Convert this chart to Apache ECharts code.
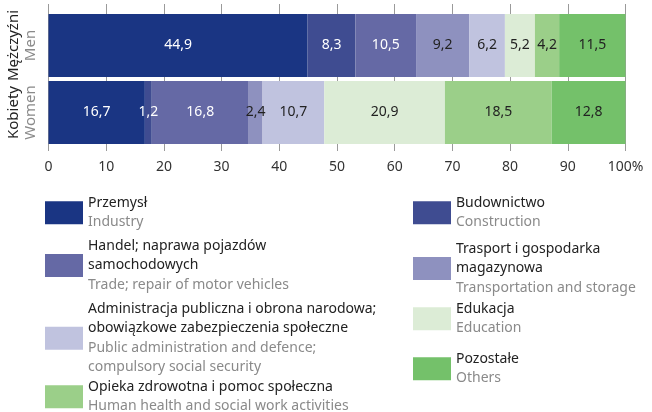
<!DOCTYPE html>
<html>
<head>
<meta charset="utf-8">
<script src="https://cdn.jsdelivr.net/npm/echarts@6/dist/echarts.min.js"></script>
<style>
  html, body { margin: 0; padding: 0; background: #fff; }
  #main { width: 652px; height: 412px; }
</style>
</head>
<body>
<div id="main"></div>
<script>
var myChart = echarts.init(document.getElementById('main'));

// wiersze wykresu
var rowsPl = ['Mężczyźni', 'Kobiety'];
var rowsEn = ['Men', 'Women'];

// sekcje (serie)
var sectionsPl = ['Przemysł', 'Budownictwo', 'Handel; naprawa pojazdów\nsamochodowych',
    'Trasport i gospodarka\nmagazynowa', 'Administracja publiczna i obrona narodowa;\nobowiązkowe zabezpieczenia społeczne',
    'Edukacja', 'Opieka zdrowotna i pomoc społeczna', 'Pozostałe'];
var sectionsEn = ['Industry', 'Construction', 'Trade; repair of motor vehicles',
    'Transportation and storage', 'Public administration and defence;\ncompulsory social security',
    'Education', 'Human health and social work activities', 'Others'];

// udział % [mężczyźni, kobiety]
var przemysl      = [44.9, 16.7];
var budownictwo   = [8.3, 1.2];
var handel        = [10.5, 16.8];
var transport     = [9.2, 2.4];
var administracja = [6.2, 10.7];
var edukacja      = [5.2, 20.9];
var opieka        = [4.2, 18.5];
var pozostale     = [11.5, 12.8];

var xTicks = [0, 10, 20, 30, 40, 50, 60, 70, 80, 90, 100];

var values = [przemysl, budownictwo, handel, transport, administracja, edukacja, opieka, pozostale];
var colors = ['#1a3583', '#3f4c91', '#6569a5', '#8e91bf', '#c0c3df', '#dcecd6', '#9bcf89', '#74c16a'];
var labelColors = ['#fff', '#fff', '#fff', '#222', '#222', '#222', '#222', '#222'];

// pozycje legendy
var legendPos = [
    {left: 40, top: 191}, {left: 408, top: 191},
    {left: 40, top: 234}, {left: 408, top: 237},
    {left: 40, top: 297}, {left: 408, top: 297},
    {left: 40, top: 375}, {left: 408, top: 347}
];

var fontFam = 'Noto Sans';

var series = [];
var legends = [];
for (var i = 0; i < values.length; i++) {
    series.push({
        name: sectionsPl[i],
        type: 'bar',
        stack: 'all',
        barWidth: 63,
        data: values[i],
        itemStyle: { color: colors[i] },
        label: {
            show: true,
            position: 'inside',
            color: labelColors[i],
            fontSize: 14,
            fontFamily: fontFam,
            formatter: function (p) { return String(p.value).replace('.', ','); }
        }
    });
    (function (idx) {
        legends.push({
            left: legendPos[idx].left,
            top: legendPos[idx].top,
            data: [sectionsPl[idx]],
            icon: 'rect',
            itemWidth: 38,
            itemHeight: 23,
            itemGap: 10,
            selectedMode: false,
            formatter: function () {
                var pl = sectionsPl[idx].split('\n').map(function (s) { return '{a|' + s + '}'; }).join('\n');
                var en = sectionsEn[idx].split('\n').map(function (s) { return '{b|' + s + '}'; }).join('\n');
                return pl + '\n' + en;
            },
            textStyle: {
                rich: {
                    a: { color: '#222', fontSize: 14, fontFamily: fontFam, lineHeight: 19.5 },
                    b: { color: '#8a8a8a', fontSize: 14, fontFamily: fontFam, lineHeight: 19.5 }
                }
            }
        });
    })(i);
}

option = {
    animation: false,
    legend: legends,
    grid: {
        left: 48.5,
        right: 26.5,
        top: 12,
        bottom: 266
    },
    xAxis: [
        {
            type: 'value',
            min: 0,
            max: 100,
            interval: 10,
            position: 'bottom',
            axisLine: { show: false },
            axisTick: { show: true, length: 5, lineStyle: { color: '#9a9a9a' } },
            splitLine: { show: true, lineStyle: { color: '#9a9a9a', width: 1 } },
            axisLabel: {
                margin: 14,
                color: '#333',
                fontSize: 14,
                fontFamily: fontFam,
                formatter: function (v) { return xTicks.indexOf(v) === xTicks.length - 1 ? v + '%' : '' + v; }
            }
        },
        {
            type: 'value',
            min: 0,
            max: 100,
            interval: 10,
            position: 'top',
            axisLine: { show: false },
            axisTick: { show: true, length: 8, lineStyle: { color: '#9a9a9a' } },
            splitLine: { show: false },
            axisLabel: { show: false }
        }
    ],
    yAxis: {
        type: 'category',
        inverse: true,
        data: rowsPl,
        axisLine: { show: false },
        axisTick: { show: false },
        axisLabel: {
            interval: 0,
            rotate: 90,
            margin: 9,
            align: 'center',
            verticalAlign: 'bottom',
            formatter: function (v, i) { return '{a|' + v + '}\n{b|' + rowsEn[i] + '}'; },
            rich: {
                a: { color: '#222', fontSize: 15, fontFamily: fontFam, lineHeight: 17, align: 'center' },
                b: { color: '#8a8a8a', fontSize: 15, fontFamily: fontFam, lineHeight: 17, align: 'center' }
            }
        }
    },
    series: series
};

myChart.setOption(option);
</script>
</body>
</html>
